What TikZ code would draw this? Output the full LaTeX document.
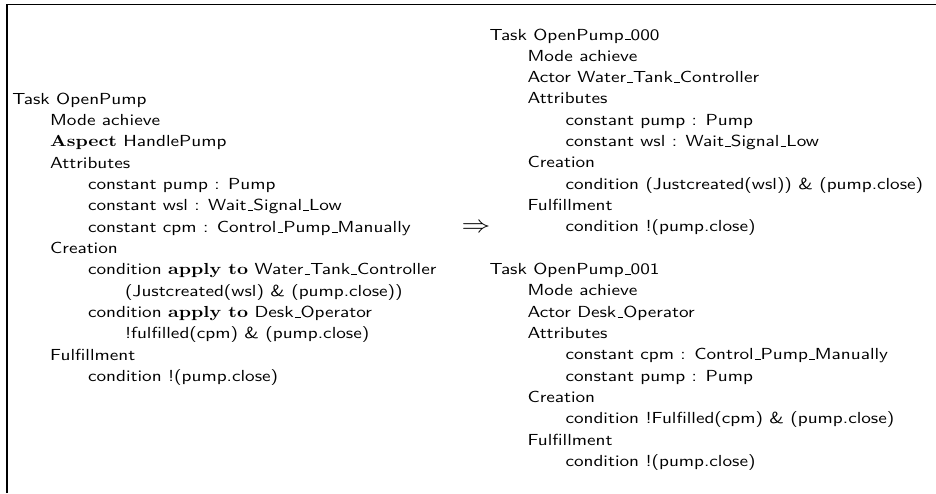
\documentclass[tikz,border=0pt]{standalone}
% short underscore rule in the style of the classic OT1 \_
\newcommand{\usc}{\leavevmode\kern.06em\vbox{\hrule width.3em}}
\begin{document}
\begin{tikzpicture}[x=0.6pt,y=-0.6pt,
  ln/.style={anchor=base west,inner sep=0pt,outer sep=0pt,xscale=1.2,
    font=\sffamily\fontsize{9.6}{11.5}\selectfont},
  kw/.style={},
  frameline/.style={line width=0.75pt}]
\useasboundingbox (0,0) rectangle (936,493);
% frame along the left and top edges
\draw[frameline] (7,493) -- (7,4.3) -- (936,4.3);

\def\dy{21.33}
\def\la{104.3}
% original task (left column)
\node[ln] (l1)  at (12.3,\la)           {Task OpenPump};
\node[ln] (l2)  at (50.2,\la+1*\dy)     {Mode achieve};
\node[ln] (l3)  at (50.2,\la+2*\dy)     {\textbf{\rmfamily Aspect} HandlePump};
\node[ln] (l4)  at (50.2,\la+3*\dy)     {Attributes};
\node[ln] (l5)  at (88.1,\la+4*\dy)     {constant pump : Pump};
\node[ln] (l6)  at (88.1,\la+5*\dy)     {constant wsl : Wait\usc Signal\usc Low};
\node[ln] (l7)  at (88.1,\la+6*\dy)     {constant cpm : Control\usc Pump\usc Manually};
\node[ln] (l8)  at (50.2,\la+7*\dy)     {Creation};
\node[ln] (l9)  at (88.1,\la+8*\dy)     {condition \textbf{\rmfamily apply to} Water\usc Tank\usc Controller};
\node[ln] (l10) at (125,\la+9*\dy)      {(Justcreated(wsl) \& (pump.close))};
\node[ln] (l11) at (88.1,\la+10*\dy)    {condition \textbf{\rmfamily apply to} Desk\usc Operator};
\node[ln] (l12) at (125,\la+11*\dy)     {!fulfilled(cpm) \& (pump.close)};
\node[ln] (l13) at (50.2,\la+12*\dy)    {Fulfillment};
\node[ln] (l14) at (88.1,\la+13*\dy)    {condition !(pump.close)};

% transformation arrow
\node[anchor=base,inner sep=0pt,xscale=1.2,font=\fontsize{14}{16}\selectfont]
  (arr) at (476,\la+6*\dy) {$\Rightarrow$};

% derived tasks (right column)
\def\ra{40}
\node[ln] (r1)  at (489.5,\ra)          {Task OpenPump\usc 000};
\node[ln] (r2)  at (527.5,\ra+1*\dy)    {Mode achieve};
\node[ln] (r3)  at (527.5,\ra+2*\dy)    {Actor Water\usc Tank\usc Controller};
\node[ln] (r4)  at (527.5,\ra+3*\dy)    {Attributes};
\node[ln] (r5)  at (565.5,\ra+4*\dy)    {constant pump : Pump};
\node[ln] (r6)  at (565.5,\ra+5*\dy)    {constant wsl : Wait\usc Signal\usc Low};
\node[ln] (r7)  at (527.5,\ra+6*\dy)    {Creation};
\node[ln] (r8)  at (565.5,\ra+7*\dy)    {condition (Justcreated(wsl)) \& (pump.close)};
\node[ln] (r9)  at (527.5,\ra+8*\dy)    {Fulfillment};
\node[ln] (r10) at (565.5,\ra+9*\dy)    {condition !(pump.close)};

\node[ln] (r11) at (489.5,\ra+11*\dy)   {Task OpenPump\usc 001};
\node[ln] (r12) at (527.5,\ra+12*\dy)   {Mode achieve};
\node[ln] (r13) at (527.5,\ra+13*\dy)   {Actor Desk\usc Operator};
\node[ln] (r14) at (527.5,\ra+14*\dy)   {Attributes};
\node[ln] (r15) at (565.5,\ra+15*\dy)   {constant cpm : Control\usc Pump\usc Manually};
\node[ln] (r16) at (565.5,\ra+16*\dy)   {constant pump : Pump};
\node[ln] (r17) at (527.5,\ra+17*\dy)   {Creation};
\node[ln] (r18) at (565.5,\ra+18*\dy)   {condition !Fulfilled(cpm) \& (pump.close)};
\node[ln] (r19) at (527.5,\ra+19*\dy)   {Fulfillment};
\node[ln] (r20) at (565.5,\ra+20*\dy)   {condition !(pump.close)};
\end{tikzpicture}
\end{document}
